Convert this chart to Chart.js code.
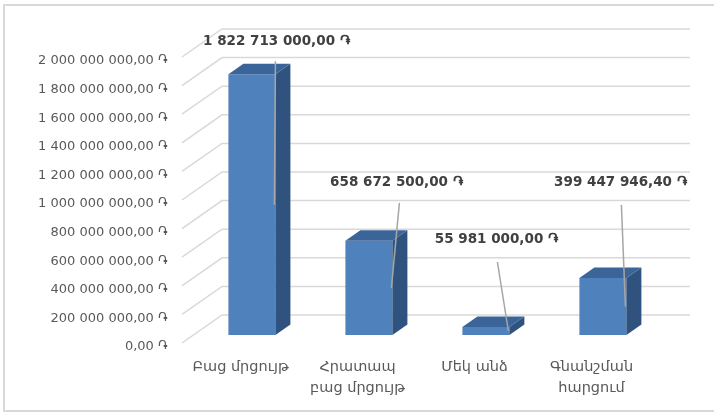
<!DOCTYPE html>
<html>
<head>
<meta charset="utf-8">
<script src="https://cdn.jsdelivr.net/npm/chart.js@4/dist/chart.umd.min.js"></script>
<style>
  html, body { margin: 0; padding: 0; background: #ffffff; }
  canvas { display: block; }
</style>
</head>
<body>
<canvas id="c" width="714" height="415"></canvas>
<script>
// ---- data ----
const categories = [["Բաց մրցույթ"], ["Հրատապ", "բաց մրցույթ"], ["Մեկ անձ"], ["Գնանշման", "հարցում"]];
const values = [1822713000, 658672500, 55981000, 399447946.40];
const yMin = 0;
const yMax = 2000000000;
const yStep = 200000000;
const currency = "֏";

// ---- formatting ----
function fmt(v) {
  const parts = Number(v).toFixed(2).split(".");
  const intPart = parts[0].replace(/\B(?=(\d{3})+(?!\d))/g, " ");
  return intPart + "," + parts[1] + " " + currency;
}

const FONT = "'DejaVu Sans', 'Liberation Sans', sans-serif";
const DEPTH = { dx: 40, dy: -32 };       // front tick level -> back wall
const DIAG_START_DY = -4;                // floor front edge relative to tick level
const BAR_FRONT = { dx: 11.4, dy: -12 }; // bar front face offset
const BAR_DEPTH = { dx: 15, dy: -10.5 }; // bar thickness in depth
// data label placements relative to the bar's front top-right corner
const LABEL_OFFSETS = [[1, -33], [4, -58], [-13, -87], [-6, -95]];
const LEADER_START = [[-1, 20], [3, 20], [1, 22], [1, 22]];

const frontColor = "#4F81BD";
const topColor = "#3B6598";
const sideColor = "#30527E";

const threeD = {
  id: "threeD",
  beforeDraw(chart) {
    const ctx = chart.ctx;
    ctx.save();
    ctx.fillStyle = "#ffffff";
    ctx.fillRect(0, 0, chart.width, chart.height);
    ctx.strokeStyle = "#D9D9D9";
    ctx.lineWidth = 2;
    ctx.strokeRect(4, 5, chart.width + 10, 406);
    ctx.restore();
  },
  beforeDatasetsDraw(chart) {
    const ctx = chart.ctx;
    const ys = chart.scales.y;
    const area = chart.chartArea;
    ctx.save();
    ctx.strokeStyle = "#D9D9D9";
    ctx.lineWidth = 1.5;
    ys.ticks.forEach(t => {
      const y = ys.getPixelForValue(t.value);
      ctx.beginPath();
      ctx.moveTo(area.left, y + DIAG_START_DY);
      ctx.lineTo(area.left + DEPTH.dx, y + DEPTH.dy);
      ctx.lineTo(area.right + DEPTH.dx, y + DEPTH.dy);
      ctx.stroke();
    });
    ctx.restore();
    ctx.save();
    ctx.translate(BAR_FRONT.dx, BAR_FRONT.dy);
  },
  afterDatasetsDraw(chart) {
    const ctx = chart.ctx;
    ctx.restore();
    const meta = chart.getDatasetMeta(0);
    ctx.save();
    meta.data.forEach(el => {
      const p = el.getProps(["x", "y", "base", "width"], true);
      const xL = p.x - p.width / 2 + BAR_FRONT.dx;
      const xR = p.x + p.width / 2 + BAR_FRONT.dx;
      const top = p.y + BAR_FRONT.dy;
      const base = p.base + BAR_FRONT.dy;
      ctx.fillStyle = sideColor;
      ctx.beginPath();
      ctx.moveTo(xR, top);
      ctx.lineTo(xR + BAR_DEPTH.dx, top + BAR_DEPTH.dy);
      ctx.lineTo(xR + BAR_DEPTH.dx, base + BAR_DEPTH.dy);
      ctx.lineTo(xR, base);
      ctx.closePath();
      ctx.fill();
      ctx.fillStyle = topColor;
      ctx.beginPath();
      ctx.moveTo(xL, top);
      ctx.lineTo(xL + BAR_DEPTH.dx, top + BAR_DEPTH.dy);
      ctx.lineTo(xR + BAR_DEPTH.dx, top + BAR_DEPTH.dy);
      ctx.lineTo(xR, top);
      ctx.closePath();
      ctx.fill();
    });
    ctx.restore();
  },
  afterDraw(chart) {
    const ctx = chart.ctx;
    const meta = chart.getDatasetMeta(0);
    const data = chart.data.datasets[0].data;
    ctx.save();
    meta.data.forEach((el, i) => {
      const p = el.getProps(["x", "y", "base", "width"], true);
      const xR = p.x + p.width / 2 + BAR_FRONT.dx;
      const top = p.y + BAR_FRONT.dy;
      const base = p.base + BAR_FRONT.dy;
      const lx = xR + LABEL_OFFSETS[i][0];
      const ly = top + LABEL_OFFSETS[i][1];
      ctx.strokeStyle = "#A6A6A6";
      ctx.lineWidth = 1.5;
      ctx.beginPath();
      ctx.moveTo(lx + LEADER_START[i][0], ly + LEADER_START[i][1]);
      ctx.lineTo(xR - 1, (top + base) / 2);
      ctx.stroke();
      ctx.fillStyle = "#404040";
      ctx.font = "bold 13.5px " + FONT;
      ctx.textAlign = "center";
      ctx.textBaseline = "middle";
      ctx.fillText(fmt(data[i]), lx, ly);
    });
    ctx.restore();
  }
};

new Chart(document.getElementById("c"), {
  type: "bar",
  data: {
    labels: categories,
    datasets: [{
      data: values,
      backgroundColor: frontColor,
      borderWidth: 0,
      categoryPercentage: 0.4017,
      barPercentage: 1
    }]
  },
  options: {
    responsive: false,
    animation: false,
    devicePixelRatio: 1,
    layout: { padding: { top: 61, right: 64, left: 0, bottom: 0 } },
    plugins: { legend: { display: false }, tooltip: { enabled: false } },
    scales: {
      x: {
        grid: { display: false, drawTicks: false },
        border: { display: false },
        ticks: {
          color: "#595959",
          font: { family: FONT, size: 14.5, lineHeight: "21px" },
          padding: 10,
          maxRotation: 0,
          autoSkip: false
        },
        afterFit(scale) { scale.height = 68; }
      },
      y: {
        min: yMin,
        max: yMax,
        grid: { display: false, drawTicks: false },
        border: { display: false },
        ticks: {
          stepSize: yStep,
          color: "#595959",
          font: { family: FONT, size: 13 },
          padding: 14,
          callback: v => fmt(v)
        },
        afterFit(scale) { scale.width = 182; }
      }
    }
  },
  plugins: [threeD]
});
</script>
</body>
</html>
